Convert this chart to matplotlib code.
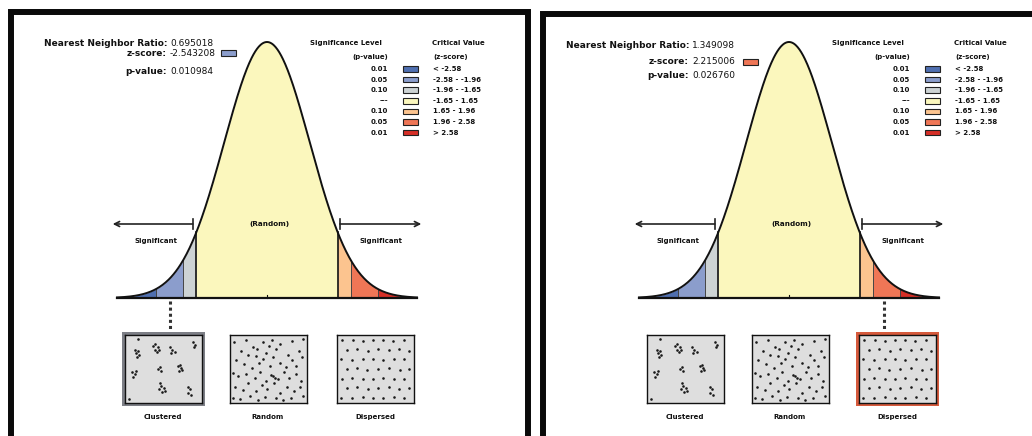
import numpy as np
import matplotlib.pyplot as plt
from matplotlib.patches import Rectangle

W, H = 1032, 436

# ---- values ----
nn_ratio = ['0.695018', '1.349098']
z_score = [-2.543208, 2.215006]
z_text = ['-2.543208', '2.215006']
p_value = ['0.010984', '0.026760']
z_pointer = [-2.26, 2.215]          # where the dotted pointer leaves the curve
highlight = ['Clustered', 'Dispersed']
highlight_color = ['#7d7f86', '#d65a3c']

breaks = [-2.58, -1.96, -1.65, 1.65, 1.96, 2.58]
sig_levels = ['0.01', '0.05', '0.10', '---', '0.10', '0.05', '0.01']
crit_labels = ['< -2.58', '-2.58 - -1.96', '-1.96 - -1.65', '-1.65 - 1.65',
               '1.65 - 1.96', '1.96 - 2.58', '> 2.58']
bin_colors = ['#4f6fb0', '#8b9dcc', '#cdd3d4', '#fbf7bd', '#fcc48f', '#ef7656', '#d62f27']
pattern_names = ['Clustered', 'Random', 'Dispersed']

clustered_pts = [(0.13, 0.22), (0.15, 0.27), (0.17, 0.24), (0.19, 0.30), (0.16, 0.33),
                 (0.37, 0.16), (0.40, 0.13), (0.43, 0.17), (0.39, 0.22), (0.45, 0.22), (0.42, 0.25),
                 (0.59, 0.18), (0.62, 0.22), (0.65, 0.25), (0.61, 0.27),
                 (0.89, 0.10), (0.92, 0.14), (0.90, 0.18),
                 (0.10, 0.54), (0.13, 0.57), (0.11, 0.62), (0.15, 0.53),
                 (0.43, 0.50), (0.46, 0.47), (0.47, 0.53),
                 (0.69, 0.46), (0.72, 0.44), (0.74, 0.49), (0.71, 0.53), (0.75, 0.52),
                 (0.46, 0.70), (0.48, 0.75), (0.51, 0.78), (0.45, 0.80), (0.53, 0.82), (0.49, 0.84),
                 (0.82, 0.76), (0.85, 0.80), (0.83, 0.86), (0.86, 0.88),
                 (0.17, 0.06), (0.06, 0.94)]
random_pts = [(0.06, 0.10), (0.15, 0.24), (0.22, 0.08), (0.31, 0.17), (0.34, 0.31), (0.43, 0.11),
              (0.47, 0.26), (0.55, 0.08), (0.61, 0.21), (0.66, 0.13), (0.76, 0.29), (0.81, 0.09),
              (0.90, 0.23), (0.95, 0.06), (0.08, 0.37), (0.19, 0.43), (0.24, 0.29), (0.29, 0.49),
              (0.38, 0.41), (0.44, 0.35), (0.53, 0.46), (0.57, 0.32), (0.66, 0.41), (0.73, 0.47),
              (0.81, 0.37), (0.87, 0.45), (0.94, 0.33), (0.05, 0.56), (0.11, 0.61), (0.21, 0.57),
              (0.33, 0.63), (0.39, 0.54), (0.48, 0.67), (0.54, 0.59), (0.63, 0.65), (0.71, 0.55),
              (0.77, 0.63), (0.87, 0.57), (0.93, 0.68), (0.07, 0.76), (0.17, 0.81), (0.24, 0.71),
              (0.34, 0.83), (0.42, 0.73), (0.49, 0.79), (0.58, 0.71), (0.65, 0.86), (0.75, 0.77),
              (0.84, 0.83), (0.91, 0.77), (0.04, 0.93), (0.14, 0.94), (0.27, 0.90), (0.37, 0.95),
              (0.46, 0.91), (0.60, 0.93), (0.69, 0.95), (0.80, 0.92), (0.95, 0.90), (0.51, 0.16),
              (0.56, 0.60), (0.59, 0.63), (0.36, 0.20)]
dispersed_pts = [(0.07, 0.08), (0.21, 0.07), (0.34, 0.09), (0.48, 0.07), (0.61, 0.08), (0.74, 0.09), (0.88, 0.07),
                 (0.13, 0.22), (0.27, 0.21), (0.41, 0.23), (0.54, 0.21), (0.68, 0.22), (0.81, 0.21), (0.94, 0.23),
                 (0.06, 0.36), (0.20, 0.37), (0.34, 0.35), (0.47, 0.36), (0.61, 0.37), (0.75, 0.35), (0.88, 0.36),
                 (0.13, 0.50), (0.27, 0.49), (0.40, 0.51), (0.54, 0.50), (0.68, 0.49), (0.82, 0.51), (0.94, 0.50),
                 (0.07, 0.64), (0.20, 0.63), (0.34, 0.65), (0.48, 0.64), (0.61, 0.63), (0.75, 0.65), (0.88, 0.64),
                 (0.14, 0.78), (0.27, 0.77), (0.41, 0.79), (0.54, 0.78), (0.68, 0.77), (0.81, 0.79), (0.94, 0.78),
                 (0.06, 0.92), (0.20, 0.93), (0.34, 0.91), (0.47, 0.92), (0.61, 0.93), (0.75, 0.91), (0.88, 0.92)]
patterns = [clustered_pts, random_pts, dispersed_pts]

# ---- layout (pixels) ----
panel_dx = [0, 522]
header_y = [[43, 53, 71], [46, 62, 76]]
frame = [(11, 12, 528), (543, 14, 1045)]
bell_cx, base_px, peak_px, px_per_z = 267, 298, 42, 300 / 7
sy = (base_px - peak_px) / 0.398942
box_dx = [-104, 1, 108]
box_w, box_top, box_bot = 77, 335, 403


def fig_rect(x0, y0, x1, y1):
    return [x0 / W, 1 - y1 / H, (x1 - x0) / W, (y1 - y0) / H]


fig = plt.figure(figsize=(W / 100, H / 100), dpi=100)
ov = fig.add_axes([0, 0, 1, 1], zorder=0)
ov.set_xlim(0, W)
ov.set_ylim(H, 0)
ov.axis('off')

bold = dict(fontweight='bold', color='#111')
for i, dx in enumerate(panel_dx):
    # frame
    fx, fy, fx2 = frame[i]
    ov.plot([fx, fx, fx2, fx2], [H + 10, fy, fy, H + 10], color='#0a0a0a', lw=4.3,
            solid_joinstyle='miter')

    # header statistics
    cx = 167 + dx
    ys = header_y[i]
    ov.text(cx, ys[0], 'Nearest Neighbor Ratio:', ha='right', va='center', fontsize=6.5, **bold)
    ov.text(cx + 3, ys[0], nn_ratio[i], ha='left', va='center', fontsize=6.5, color='#111')
    ov.text(cx, ys[1], 'z-score:', ha='right', va='center', fontsize=6.5, **bold)
    ov.text(cx + 3, ys[1], z_text[i], ha='left', va='center', fontsize=6.5, color='#111')
    ov.text(cx, ys[2], 'p-value:', ha='right', va='center', fontsize=6.5, **bold)
    ov.text(cx + 3, ys[2], p_value[i], ha='left', va='center', fontsize=6.5, color='#111')
    k = int(np.digitize(z_score[i], breaks))
    ov.add_patch(Rectangle((221 + dx, ys[1] - 3), 15, 6, facecolor=bin_colors[k],
                           edgecolor='#222', lw=0.8))

    # legend
    ov.text(346 + dx, 43, 'Significance Level', ha='center', va='center', fontsize=5, **bold)
    ov.text(388 + dx, 57, '(p-value)', ha='right', va='center', fontsize=5, **bold)
    ov.text(432 + dx, 43, 'Critical Value', ha='left', va='center', fontsize=5, **bold)
    ov.text(433 + dx, 57, '(z-score)', ha='left', va='center', fontsize=5, **bold)
    for j in range(len(sig_levels)):
        y = 69 + 10.6 * j
        ov.text(388 + dx, y, sig_levels[j], ha='right', va='center', fontsize=5, **bold)
        ov.add_patch(Rectangle((403 + dx, y - 2.8), 15, 5.6, facecolor=bin_colors[j],
                               edgecolor='#222', lw=0.8))
        ov.text(433 + dx, y, crit_labels[j], ha='left', va='center', fontsize=5, **bold)

    # bell curve
    c = bell_cx + dx
    ax = fig.add_axes(fig_rect(c - 3.7 * px_per_z, base_px - 0.41 * sy,
                               c + 3.7 * px_per_z, base_px + 0.08 * sy), zorder=1)
    ax.set_xlim(-3.7, 3.7)
    ax.set_ylim(-0.08, 0.41)
    ax.axis('off')
    ax.patch.set_alpha(0)
    edges = [-3.5] + breaks + [3.5]
    for j in range(len(bin_colors)):
        zz = np.linspace(edges[j], edges[j + 1], 120)
        ax.fill_between(zz, 0, np.exp(-zz ** 2 / 2) / np.sqrt(2 * np.pi),
                        color=bin_colors[j], lw=0)
    for b in breaks:
        h = np.exp(-b ** 2 / 2) / np.sqrt(2 * np.pi)
        if abs(b) == 1.65:
            ax.plot([b, b], [0, h], color='#111', lw=1.2)
        else:
            ax.plot([b, b], [0, h], color='#444', lw=0.7)
    z = np.linspace(-3.5, 3.5, 500)
    ax.plot(z, np.exp(-z ** 2 / 2) / np.sqrt(2 * np.pi), color='#111', lw=1.4)
    ax.plot([-3.5, 3.5], [0, 0], color='#111', lw=1.6)
    ax.plot([0, 0], [0, 0.005], color='#111', lw=0.8)

    ay = (base_px - 224) / sy
    for a0, a1 in [(-1.73, -3.6), (1.70, 3.6)]:
        ax.annotate('', xy=(a1, ay), xytext=(a0, ay),
                    arrowprops=dict(arrowstyle='->', lw=1.2, color='#222',
                                    shrinkA=0, shrinkB=0, mutation_scale=9))
        ax.plot([a0, a0], [ay - 0.0075, ay + 0.0075], color='#222', lw=1.2)
    ax.text(0.05, ay, '(Random)', ha='center', va='center', fontsize=5.2, **bold)
    sy_txt = (base_px - 241) / sy
    ax.text(-2.6, sy_txt, 'Significant', ha='center', va='center', fontsize=5, **bold)
    ax.text(2.65, sy_txt, 'Significant', ha='center', va='center', fontsize=5, **bold)
    ax.plot([z_pointer[i], z_pointer[i]], [-0.004, -(331 - base_px) / sy],
            color='#333', lw=2.2, linestyle=(0, (1, 1)), clip_on=False)

    # point pattern insets
    for j, name in enumerate(pattern_names):
        bx = c + box_dx[j]
        x0, x1 = bx - box_w / 2, bx + box_w / 2
        if name == highlight[i]:
            ov.add_patch(Rectangle((x0 - 3, box_top - 3), box_w + 6, box_bot - box_top + 6,
                                   facecolor=highlight_color[i], edgecolor='none'))
        ins = fig.add_axes(fig_rect(x0, box_top, x1, box_bot), zorder=2)
        ins.set_facecolor('#dedede')
        ins.set_xlim(0, 1)
        ins.set_ylim(1, 0)
        ins.set_xticks([])
        ins.set_yticks([])
        for s in ins.spines.values():
            s.set_color('#111')
            s.set_linewidth(1.0)
        pts = np.array(patterns[j])
        ins.scatter(pts[:, 0], pts[:, 1], s=3.5, color='#1a1a1a', lw=0)
        ov.text(bx, 417, name, ha='center', va='center', fontsize=5, **bold)

fig.savefig('out.png', dpi=100)
